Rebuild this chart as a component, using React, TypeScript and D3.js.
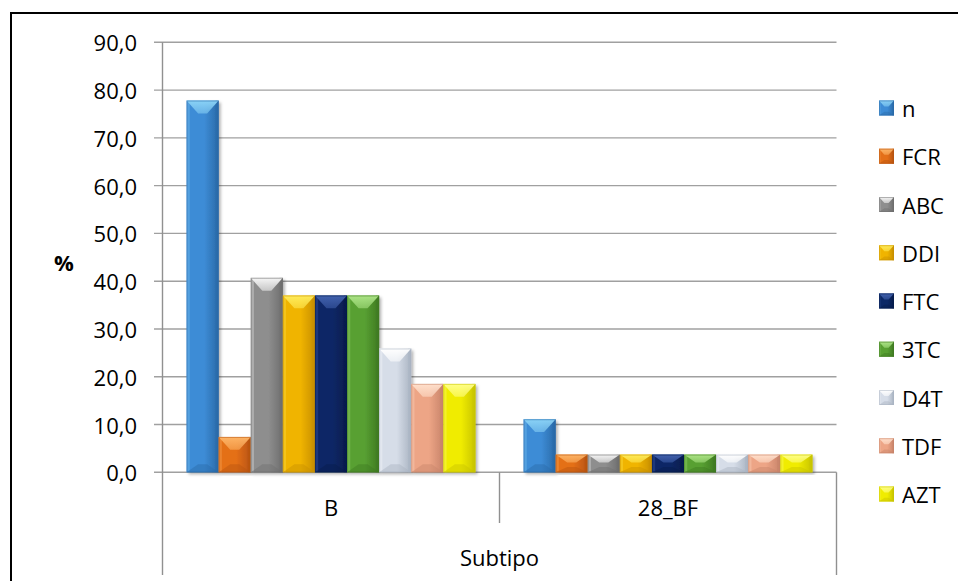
import React from "react";
import * as d3 from "d3";

// Subtype categories and the drug series shown for each
const categories = ["B", "28_BF"];
const series = ["n", "FCR", "ABC", "DDI", "FTC", "3TC", "D4T", "TDF", "AZT"];
const valuesB = [77.8, 7.4, 40.7, 37.0, 37.0, 37.0, 25.9, 18.5, 18.5];
const values28BF = [11.1, 3.7, 3.7, 3.7, 3.7, 3.7, 3.7, 3.7, 3.7];
const yTicks = [0, 10, 20, 30, 40, 50, 60, 70, 80, 90];

// base / highlight / shade per series
const baseColors = ["#3d8cd6", "#e46f18", "#8e8e8e", "#f0b400", "#0b2866", "#58a032", "#d6dde8", "#eda586", "#f0ec00"];
const lightColors = ["#8ad2f6", "#fdb466", "#f6f6f6", "#ffec5a", "#4262ae", "#ace486", "#ffffff", "#ffe0cc", "#ffff88"];
const darkColors = ["#2a6aa8", "#b85410", "#6e6e6e", "#c89000", "#061c4c", "#3f7a22", "#aab4c2", "#c8846a", "#c8c400"];

const W = 958;
const H = 581;
const plotLeft = 162.5;
const plotRight = 836.5;
const plotTop = 42.3;
const plotBottom = 472.3;

const FONT = "'Open Sans', 'Noto Sans', sans-serif";

const locale = d3.formatLocale({ decimal: ",", thousands: ".", grouping: [3], currency: ["", ""] });
const fmt = locale.format(".1f");

type Bar = { cat: string; key: string; idx: number; value: number };

function BevelBar({ x, y, w, h, idx, shadow = true }: { x: number; y: number; w: number; h: number; idx: number; shadow?: boolean }) {
  const x1 = x + w;
  const y1 = y + h;
  const dt = Math.min(w * 0.4, h * 0.45);
  const db = Math.min(w * 0.25, h * 0.3);
  const ins = w * 0.36;
  const side = Math.max(1.5, w * 0.1);
  return (
    <g>
      <rect x={x} y={y} width={w} height={h} fill={`url(#body${idx})`} filter={shadow ? "url(#shadow)" : undefined} />
      <rect x={x} y={y} width={side} height={h} fill={lightColors[idx]} opacity={0.3} />
      <rect x={x1 - side} y={y} width={side} height={h} fill={darkColors[idx]} opacity={0.55} />
      <polygon
        points={`${x},${y1} ${x1},${y1} ${x1 - ins},${y1 - db} ${x + ins},${y1 - db}`}
        fill={darkColors[idx]}
        opacity={0.45}
      />
      <polygon
        points={`${x},${y} ${x1},${y} ${x1 - ins},${y + dt} ${x + ins},${y + dt}`}
        fill={`url(#top${idx})`}
      />
      <rect x={x + 0.5} y={y + 0.5} width={w - 1} height={h - 1} fill="none" stroke={darkColors[idx]} strokeOpacity={0.5} strokeWidth={1} />
    </g>
  );
}

export default function App() {
  const y = d3.scaleLinear().domain([0, 90]).range([plotBottom, plotTop]);
  const x0 = d3.scaleBand<string>().domain(categories).range([plotLeft, plotRight]).paddingInner(0).paddingOuter(0);
  const x1 = d3.scaleBand<string>().domain(series).range([0, x0.bandwidth()]).paddingInner(0).paddingOuter(0.75);

  const allValues = [valuesB, values28BF];
  const bars: Bar[] = [];
  categories.forEach((cat, ci) => {
    series.forEach((key, si) => {
      bars.push({ cat, key, idx: si, value: allValues[ci][si] });
    });
  });

  const legendX = 879;
  const legendY0 = 108;
  const legendStep = 48.25;

  return (
    <svg
      width={W}
      height={H}
      style={{ position: "fixed", left: 0, top: 0, background: "#fff" }}
      fontFamily={FONT}
    >
      <defs>
        <filter id="shadow" x="-20%" y="-5%" width="150%" height="115%">
          <feDropShadow dx="2" dy="2" stdDeviation="1.6" floodColor="#000" floodOpacity="0.3" />
        </filter>
        {series.map((s, i) => (
          <linearGradient key={`b${s}`} id={`body${i}`} x1="0" x2="1" y1="0" y2="0">
            <stop offset="0" stopColor={baseColors[i]} />
            <stop offset="0.55" stopColor={baseColors[i]} />
            <stop offset="1" stopColor={darkColors[i]} />
          </linearGradient>
        ))}
        {series.map((s, i) => (
          <linearGradient key={`t${s}`} id={`top${i}`} x1="0" x2="0" y1="0" y2="1">
            <stop offset="0" stopColor={lightColors[i]} />
            <stop offset="1" stopColor={lightColors[i]} stopOpacity={0.55} />
          </linearGradient>
        ))}
      </defs>

      <rect x={0} y={0} width={W} height={H} fill="#fff" />

      {/* outer frame */}
      <line x1={11} y1={13} x2={W} y2={13} stroke="#000" strokeWidth={2} />
      <line x1={11} y1={12} x2={11} y2={H} stroke="#000" strokeWidth={2} />

      {/* horizontal gridlines and ticks */}
      {yTicks.map((t) => (
        <g key={t}>
          <line x1={154} x2={plotRight} y1={y(t)} y2={y(t)} stroke="#a0a0a0" strokeWidth={1.4} />
          <text
            x={137}
            y={y(t)}
            textAnchor="end"
            dominantBaseline="central"
            fontSize={22}
            fill="#000"
          >
            {fmt(t)}
          </text>
        </g>
      ))}

      {/* category axis frame */}
      <line x1={plotLeft} x2={plotLeft} y1={plotTop} y2={575} stroke="#909090" strokeWidth={1.4} />
      <line x1={x0("28_BF")!} x2={x0("28_BF")!} y1={plotBottom} y2={523} stroke="#909090" strokeWidth={1.4} />
      <line x1={plotRight} x2={plotRight} y1={plotBottom} y2={575} stroke="#909090" strokeWidth={1.4} />

      {/* bars */}
      {bars.map((b) => {
        const bx = (x0(b.cat) ?? 0) + (x1(b.key) ?? 0);
        const by = y(b.value);
        return <BevelBar key={`${b.cat}-${b.key}`} x={bx} y={by} w={x1.bandwidth()} h={y(0) - by} idx={b.idx} />;
      })}

      {/* category labels */}
      {categories.map((c) => (
        <text
          key={c}
          x={(x0(c) ?? 0) + x0.bandwidth() / 2}
          y={507}
          textAnchor="middle"
          dominantBaseline="central"
          fontSize={22}
          fill="#000"
        >
          {c}
        </text>
      ))}
      <text x={(plotLeft + plotRight) / 2} y={557} textAnchor="middle" dominantBaseline="central" fontSize={22} fill="#000">
        Subtipo
      </text>

      {/* y axis title */}
      <text x={64} y={262} textAnchor="middle" dominantBaseline="central" fontSize={22} fontWeight="bold" fill="#000">
        %
      </text>

      {/* legend */}
      {series.map((s, i) => {
        const cy = legendY0 + i * legendStep;
        return (
          <g key={s}>
            <BevelBar x={legendX} y={cy - 7.5} w={15} h={15} idx={i} shadow={false} />
            <text x={902} y={cy} dominantBaseline="central" fontSize={22} fill="#000">
              {s}
            </text>
          </g>
        );
      })}
    </svg>
  );
}
